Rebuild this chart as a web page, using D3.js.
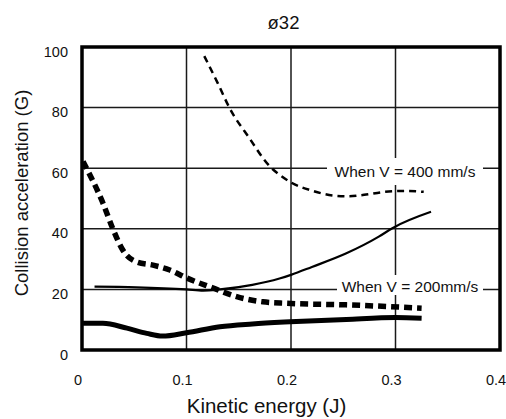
<!DOCTYPE html>
<html>
<head>
<meta charset="utf-8">
<script src="https://cdn.jsdelivr.net/npm/d3@7/dist/d3.min.js"></script>
<style>
  html, body { margin: 0; padding: 0; background: #fff; }
  svg { display: block; }
  text { font-family: "Liberation Sans", Arial, Helvetica, sans-serif; fill: #111; }
</style>
</head>
<body>
<svg id="chart" width="506" height="419"></svg>
<script>
// ---- data ----
const title = "ø32";
const xTicks = [0, 0.1, 0.2, 0.3, 0.4];
const yTicks = [0, 20, 40, 60, 80, 100];
const xLabel = "Kinetic energy (J)";
const yLabel = "Collision acceleration (G)";

// V = 400 mm/s, thin dashed
const thinDashX = [0.117, 0.13, 0.141, 0.16, 0.18, 0.19, 0.20, 0.22, 0.24, 0.255, 0.27, 0.29, 0.31, 0.327];
const thinDashY = [97, 88, 80, 70, 60.5, 57.6, 55.3, 52.6, 51, 50.7, 51.2, 52.2, 52.5, 52.2];

// V = 400 mm/s, thin solid
const thinSolidX = [0.012, 0.052, 0.10, 0.116, 0.132, 0.163, 0.189, 0.20, 0.22, 0.253, 0.284, 0.297, 0.334];
const thinSolidY = [20.9, 20.7, 20.0, 19.6, 20.0, 21.5, 23.6, 24.8, 27.4, 31.9, 37.4, 40.2, 45.6];

// V = 200 mm/s, thick dashed
const thickDashX = [0.001, 0.02, 0.03, 0.039, 0.052, 0.068, 0.084, 0.10, 0.125, 0.148, 0.173, 0.196, 0.253, 0.325];
const thickDashY = [62.2, 48.5, 39.6, 33, 29.1, 28, 26.4, 23.8, 20.5, 17.6, 15.9, 15.4, 14.9, 13.8];

// V = 200 mm/s, thick solid
const thickSolidX = [0.001, 0.02, 0.043, 0.062, 0.077, 0.10, 0.132, 0.163, 0.199, 0.253, 0.30, 0.325];
const thickSolidY = [8.8, 8.8, 7.2, 5.5, 4.6, 5.7, 7.7, 8.6, 9.3, 10.1, 10.7, 10.5];

const labels = [
  { text: "When V = 400 mm/s", x: 0.3, y: 60 },
  { text: "When V = 200mm/s", x: 0.3, y: 20 }
];

// ---- layout ----
const svg = d3.select("#chart");
const L = 82, R = 500, T = 47, B = 350;
const x = d3.scaleLinear().domain([0, 0.4]).range([L, R]);
const y = d3.scaleLinear().domain([0, 100]).range([B, T]);

// grid
const grid = svg.append("g");
grid.selectAll("line.v").data(xTicks.slice(1, -1)).join("line")
  .attr("x1", d => x(d)).attr("x2", d => x(d)).attr("y1", T).attr("y2", B)
  .attr("stroke", "#1a1a1a").attr("stroke-width", 1.5);
grid.selectAll("line.h").data(yTicks.slice(1, -1)).join("line")
  .attr("x1", L).attr("x2", R).attr("y1", d => y(d)).attr("y2", d => y(d))
  .attr("stroke", "#1a1a1a").attr("stroke-width", 1.5);

// label boxes (white backing)
const lab = svg.append("g");
const boxes = [
  { x0: 327, x1: 483, y0: 158, y1: 185 },
  { x0: 337, x1: 483, y0: 275, y1: 295 }
];
lab.selectAll("rect").data(boxes).join("rect")
  .attr("x", d => d.x0).attr("y", d => d.y0)
  .attr("width", d => d.x1 - d.x0).attr("height", d => d.y1 - d.y0)
  .attr("fill", "#fff");
lab.selectAll("text").data(labels).join("text")
  .attr("x", (d, i) => i === 0 ? 405 : 410)
  .attr("y", (d, i) => i === 0 ? 177 : 292)
  .attr("text-anchor", "middle")
  .attr("font-size", 15.5)
  .text(d => d.text);

// curves
const line = d3.line().curve(d3.curveMonotoneX).x(d => x(d[0])).y(d => y(d[1]));
const series = [
  { xs: thinDashX, ys: thinDashY, w: 2.5, dash: "7,5" },
  { xs: thinSolidX, ys: thinSolidY, w: 2.2, dash: null },
  { xs: thickDashX, ys: thickDashY, w: 5.5, dash: "8,5" },
  { xs: thickSolidX, ys: thickSolidY, w: 5, dash: null }
];
svg.append("g").selectAll("path").data(series).join("path")
  .attr("d", s => line(s.xs.map((v, i) => [v, s.ys[i]])))
  .attr("fill", "none").attr("stroke", "#000")
  .attr("stroke-width", s => s.w)
  .attr("stroke-dasharray", s => s.dash);

// frame
svg.append("rect").attr("x", L).attr("y", T).attr("width", R - L).attr("height", B - T)
  .attr("fill", "none").attr("stroke", "#000").attr("stroke-width", 3.5);

// axes (tick labels only)
const xAxis = d3.axisBottom(x).tickValues(xTicks).tickSize(0).tickPadding(0)
  .tickFormat(d => d === 0 ? "0" : d3.format(".1f")(d));
const gx = svg.append("g").attr("transform", `translate(-4.5, 375)`).call(xAxis);
gx.select(".domain").remove();
gx.selectAll("text").attr("font-size", 14.5).attr("fill", "#111")
  .attr("font-family", "Liberation Sans, Arial, sans-serif");

const yAxis = d3.axisLeft(y).tickValues(yTicks).tickSize(0).tickPadding(0);
const gy = svg.append("g").attr("transform", `translate(68, 4.5)`).call(yAxis);
gy.select(".domain").remove();
gy.selectAll("text").attr("font-size", 14.5).attr("fill", "#111")
  .attr("font-family", "Liberation Sans, Arial, sans-serif");

// titles
svg.append("text").attr("x", 283.5).attr("y", 29).attr("text-anchor", "middle")
  .attr("font-size", 18.5).text(title);
svg.append("text").attr("x", 266.5).attr("y", 413).attr("text-anchor", "middle")
  .attr("font-size", 20.5).text(xLabel);
svg.append("text").attr("transform", "translate(28,193) rotate(-90)")
  .attr("text-anchor", "middle").attr("font-size", 18.5).text(yLabel);
</script>
</body>
</html>
